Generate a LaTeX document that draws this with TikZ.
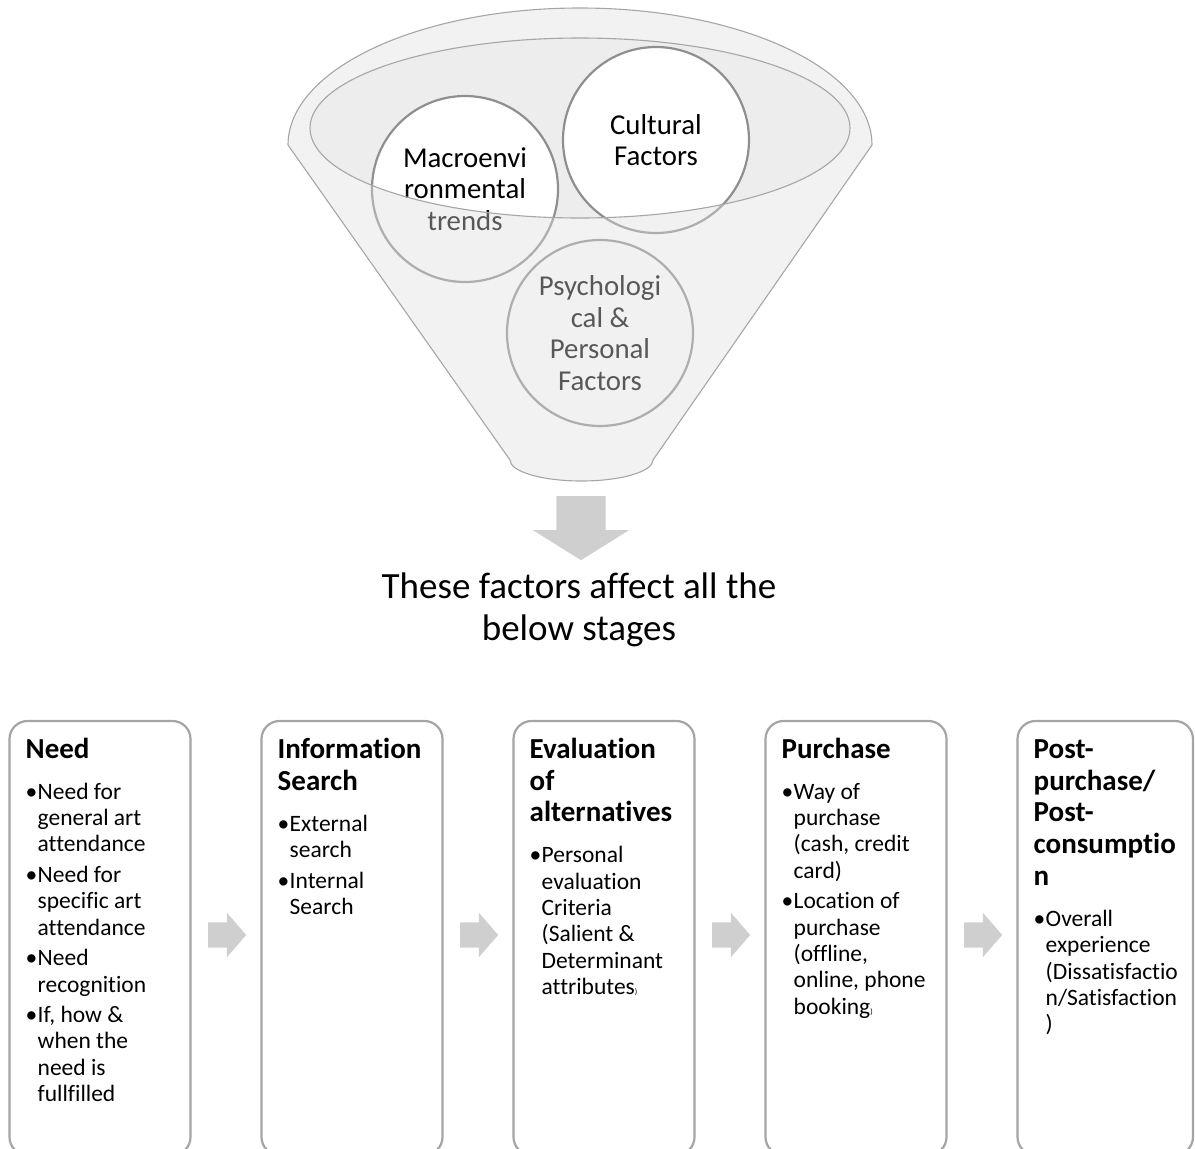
\documentclass[tikz,border=0pt]{standalone}
\usepackage{fontspec}
\setmainfont{Carlito}[Ligatures=NoCommon]
\usetikzlibrary{positioning}
\usetikzlibrary{shapes.arrows}

\definecolor{boxgrey}{HTML}{A5A5A5}
\definecolor{rimgrey}{HTML}{A6A6A6}
\definecolor{ringgrey}{HTML}{8F8F8F}
\definecolor{mouthgrey}{HTML}{EDEDED}
\definecolor{veilgrey}{HTML}{DEDEDE}
\definecolor{flowgrey}{HTML}{CFCFCF}

\newcommand{\stagehead}[1]{{\fontsize{29}{31.8}\selectfont\bfseries\rule{0pt}{22pt}#1\par}\vspace{14.8pt}}
\newcommand{\stageitem}[1]{\hangindent=12pt\hangafter=1\noindent\makebox[12pt][l]{•}#1\par\vspace{4.3pt}}
\newcommand{\smallparen}{{\fontsize{8}{8}\selectfont)}}
\newcommand{\funnelpath}{(288,145) arc[start angle=180, end angle=360, x radius=292, y radius=137] -- (653,460) arc[start angle=0, end angle=180, x radius=71.5, y radius=21] -- cycle}

\begin{document}
\begin{tikzpicture}[x=1pt, y=-1pt]
    \tikzset{stage/.style={draw=boxgrey, line width=2.2pt, rounded corners=18pt, fill=white,
        minimum width=181pt, minimum height=434pt, inner sep=0pt, outer sep=0pt}};
    \tikzset{stagetext/.style={anchor=north west, text width=170pt, align=flush left, inner sep=0pt,
        font=\fontsize{23.5}{26.3}\selectfont}};
    \tikzset{factor/.style={circle, draw=ringgrey, line width=2.2pt, fill=white, minimum size=186pt,
        inner sep=0pt, align=center, font=\fontsize{28.8}{31.6}\selectfont}};
    \tikzset{flow/.style={single arrow, fill=flowgrey, inner xsep=0pt, inner ysep=12.5pt, anchor=tail,
        minimum height=38pt, single arrow head extend=9.5pt, single arrow head indent=0pt,
        single arrow tip angle=98}};
    \tikzset{rim/.style={draw=rimgrey, line width=1.1pt}};

    \useasboundingbox (0,0) rectangle (1195,1149);
    \clip (0,0) rectangle (1195,1149);

    % funnel with the three factors
    \fill[mouthgrey] (580,128) ellipse [x radius=270, y radius=90];
    \node[factor] (macro) at (465,189) {Macroenvi\\ronmental\\trends};
    \node[factor] (culture) at (656,140) {Cultural\\Factors};
    \node[factor] (psych) at (600,333) {Psychologi\\cal \&\\Personal\\Factors};
    \fill[veilgrey, fill opacity=0.4, even odd rule] \funnelpath (580,128) ellipse [x radius=270, y radius=90];
    \draw[rim] \funnelpath;
    \draw[rim] (580,128) ellipse [x radius=270, y radius=90];

    \node[flow, rotate=-90, minimum height=64pt, inner ysep=24.5pt,
        single arrow head extend=23.5pt, single arrow tip angle=116] (down) at (581,496) {};
    \node[anchor=north, align=center, inner sep=0pt, font=\fontsize{37}{42}\selectfont]
        (caption) at (579,573) {These factors affect all the\\below stages};

    % stages
    \node[stage, anchor=north west] (need) at (9.5,721) {};
    \node[stage, right=71pt of need] (search) {};
    \node[stage, right=71pt of search] (evaluation) {};
    \node[stage, right=71pt of evaluation] (purchase) {};
    \node[stage, right=71pt of purchase, minimum width=175.5pt] (post) {};

    \node[stagetext] (needtxt) at ([xshift=16pt, yshift=-15pt]need.north west) {%
        \stagehead{Need}
        \stageitem{Need for\newline general art\newline attendance}
        \stageitem{Need for\newline specific art\newline attendance}
        \stageitem{Need\newline recognition}
        \stageitem{If, how \&\newline when the\newline need is\newline fullfilled}};
    \node[stagetext] (searchtxt) at ([xshift=16pt, yshift=-15pt]search.north west) {%
        \stagehead{Information\newline Search}
        \stageitem{External\newline search}
        \stageitem{Internal\newline Search}};
    \node[stagetext] (evaluationtxt) at ([xshift=16pt, yshift=-15pt]evaluation.north west) {%
        \stagehead{Evaluation\newline of\newline alternatives}
        \stageitem{Personal\newline evaluation\newline Criteria\newline (Salient \&\newline Determinant\newline attributes\smallparen}};
    \node[stagetext] (purchasetxt) at ([xshift=16pt, yshift=-15pt]purchase.north west) {%
        \stagehead{Purchase}
        \stageitem{Way of\newline purchase\newline (cash, credit\newline card)}
        \stageitem{Location of\newline purchase\newline (offline,\newline online, phone\newline booking\smallparen}};
    \node[stagetext] (posttxt) at ([xshift=16pt, yshift=-15pt]post.north west) {%
        \stagehead{Post-\newline purchase/\newline Post-\newline consumptio\newline n}
        \stageitem{Overall\newline experience\newline (Dissatisfactio\newline n/Satisfaction\newline )}};

    \node[flow] (step1) at ([xshift=17.5pt, yshift=3pt]need.east) {};
    \node[flow] (step2) at ([xshift=17.5pt, yshift=3pt]search.east) {};
    \node[flow] (step3) at ([xshift=17.5pt, yshift=3pt]evaluation.east) {};
    \node[flow] (step4) at ([xshift=17.5pt, yshift=3pt]purchase.east) {};
\end{tikzpicture}
\end{document}
